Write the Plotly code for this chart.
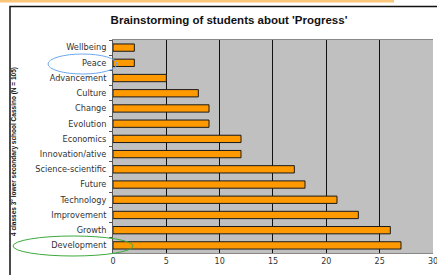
import plotly.graph_objects as go

categories = ["Wellbeing", "Peace", "Advancement", "Culture", "Change", "Evolution",
              "Economics", "Innovation/ative", "Science-scientific", "Future",
              "Technology", "Improvement", "Growth", "Development"]
counts = [2, 2, 5, 8, 9, 9, 12, 12, 17, 18, 21, 23, 26, 27]
x_ticks = [0, 5, 10, 15, 20, 25, 30]

W, H = 437, 275
L, R, T, B = 113, 4, 40, 22
PW, PH = W - L - R, H - T - B

def px(x):
    return (x - L) / PW

def py(y):
    return (H - B - y) / PH

fig = go.Figure(go.Bar(
    x=counts, y=categories, orientation="h",
    marker=dict(color="#FF9900", line=dict(color="#1a1a1a", width=1)),
    width=0.48,
))

shapes = [
    dict(type="rect", xref="paper", yref="paper", x0=px(0), x1=px(394), y0=py(2.5), y1=py(0),
         fillcolor="#FBC57A", line=dict(width=0), layer="below"),
    dict(type="rect", xref="paper", yref="paper", x0=px(10), x1=px(445), y0=py(290), y1=py(6.5),
         fillcolor="rgba(0,0,0,0)", line=dict(color="#111", width=1.5)),
    dict(type="circle", xref="paper", yref="paper", x0=px(48), x1=px(117), y0=py(74), y1=py(54),
         line=dict(color="#6FA8F0", width=1)),
    dict(type="circle", xref="paper", yref="paper", x0=px(13), x1=px(133), y0=py(256), y1=py(236),
         line=dict(color="#3DAA3D", width=1)),
]

fig.update_layout(
    width=W, height=H,
    margin=dict(l=L, r=R, t=T, b=B),
    paper_bgcolor="white", plot_bgcolor="#C0C0C0",
    showlegend=False,
    title=dict(text="<b>Brainstorming of students about 'Progress'</b>",
               x=229 / W, xanchor="center", y=1 - 20 / H, yanchor="middle",
               font=dict(family="Liberation Sans, Arial", size=11.5, color="#111")),
    shapes=shapes,
    annotations=[dict(text="<b>4 classes 3° lower secondary school Cassino (N = 105)</b>",
                      xref="paper", yref="paper", x=px(8), y=py(152), textangle=-90,
                      showarrow=False, font=dict(family="Liberation Sans, Arial", size=6.5, color="#111"))],
    bargap=0.5,
)
fig.update_xaxes(range=[0, 30.001], tickvals=x_ticks, showgrid=True, gridcolor="#111", gridwidth=1,
                 zeroline=False, showline=True, linecolor="#888", mirror=True,
                 tickfont=dict(family="DejaVu Sans, Verdana", size=8, color="#333"),
                 ticklabeloverflow="allow", automargin=False,
                 ticks="", ticklen=0)
fig.update_yaxes(autorange="reversed", showline=True, linecolor="#555", mirror=False,
                 showgrid=False, ticks="outside", ticklen=3, tickcolor="#555",
                 tickson="boundaries", ticklabelstandoff=4,
                 tickfont=dict(family="DejaVu Sans, Verdana", size=8.2, color="#333"))
fig.write_html("out.html", config={"displayModeBar": False},
               post_script="document.body.style.margin='0';")
